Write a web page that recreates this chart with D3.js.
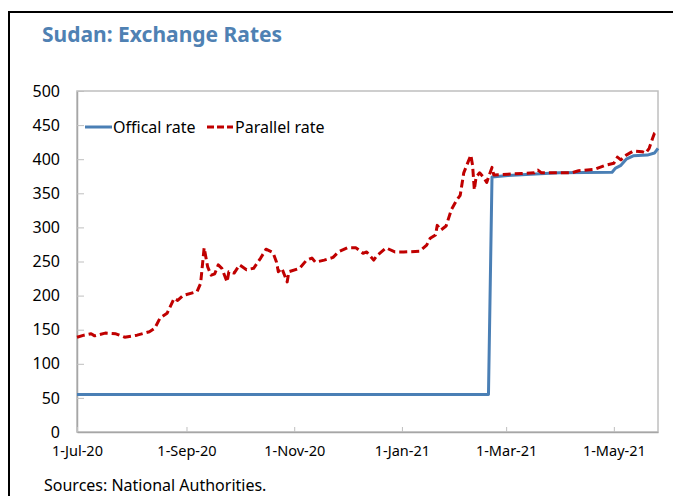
<!DOCTYPE html>
<html>
<head>
<meta charset="utf-8">
<script src="https://cdn.jsdelivr.net/npm/d3@7"></script>
<style>
  body { margin: 0; background: #fff; }
  svg { display: block; font-family: "Noto Sans", "Open Sans", sans-serif; }
</style>
</head>
<body>
<svg id="chart" width="673" height="496"></svg>
<script>
// official rate (SDG per USD)
const officialDates = ["2020-07-01", "2021-02-19", "2021-02-21", "2021-03-02", "2021-03-15", "2021-03-31",
  "2021-04-30", "2021-05-02", "2021-05-05", "2021-05-08", "2021-05-12", "2021-05-20", "2021-05-24", "2021-05-26"];
const officialValues = [55, 55, 374, 376, 378, 380, 381, 387, 391, 400, 405, 406, 409, 416];

// parallel market rate
const parallelDates = ["2020-07-01", "2020-07-05", "2020-07-09", "2020-07-11", "2020-07-17", "2020-07-23", "2020-07-28",
  "2020-08-04", "2020-08-11", "2020-08-14", "2020-08-17", "2020-08-21", "2020-08-25", "2020-08-27", "2020-08-30",
  "2020-09-07", "2020-09-09", "2020-09-11", "2020-09-13", "2020-09-15", "2020-09-17", "2020-09-19", "2020-09-21",
  "2020-09-24", "2020-09-25", "2020-09-28", "2020-10-01", "2020-10-05", "2020-10-09", "2020-10-13", "2020-10-16",
  "2020-10-20", "2020-10-22", "2020-10-23", "2020-10-25", "2020-10-28", "2020-10-29", "2020-11-04", "2020-11-08",
  "2020-11-11", "2020-11-13", "2020-11-18", "2020-11-23", "2020-11-26", "2020-12-01", "2020-12-06", "2020-12-10",
  "2020-12-12", "2020-12-16", "2020-12-18", "2020-12-23", "2020-12-28", "2021-01-02", "2021-01-11", "2021-01-15",
  "2021-01-17", "2021-01-20", "2021-01-21", "2021-01-23", "2021-01-26", "2021-01-29", "2021-02-01", "2021-02-03",
  "2021-02-05", "2021-02-09", "2021-02-10", "2021-02-11", "2021-02-12", "2021-02-14", "2021-02-16", "2021-02-18",
  "2021-02-21", "2021-02-22", "2021-03-02", "2021-03-10", "2021-03-17", "2021-03-19", "2021-03-21", "2021-03-31",
  "2021-04-07", "2021-04-11", "2021-04-20", "2021-04-26", "2021-05-01", "2021-05-03", "2021-05-05", "2021-05-08",
  "2021-05-12", "2021-05-17", "2021-05-19", "2021-05-21", "2021-05-23", "2021-05-24", "2021-05-26"];
const parallelValues = [139, 142, 144, 141, 145, 144, 139,
  142, 147, 152, 167, 174, 196, 193, 200,
  206, 218, 270, 242, 230, 232, 245, 240,
  220, 235, 233, 245, 238, 240, 255, 268,
  263, 249, 235, 240, 220, 235, 240, 252,
  255, 249, 252, 256, 264, 270, 270, 262,
  264, 252, 259, 270, 264, 264, 265, 274,
  284, 289, 303, 296, 302, 326, 340, 347,
  380, 406, 391, 355, 374, 380, 374, 366,
  388, 377, 378, 379, 380, 384, 380, 380,
  380, 383, 385, 391, 394, 403, 399, 406,
  412, 411, 409, 416, 431, 438, 441];

const yTicks = [0, 50, 100, 150, 200, 250, 300, 350, 400, 450, 500];
const xTicks = ["2020-07-01", "2020-09-01", "2020-11-01", "2021-01-01", "2021-03-01", "2021-05-01"];

const parse = d3.timeParse("%Y-%m-%d");
const fmt = d3.timeFormat("%-d-%b-%y");

const margin = {top: 91, right: 15, bottom: 64, left: 77};
const width = 673, height = 496;

const svg = d3.select("#chart");

// outer frame
svg.append("rect")
  .attr("x", 9).attr("y", 12)
  .attr("width", 700).attr("height", 520)
  .attr("fill", "none").attr("stroke", "#000").attr("stroke-width", 2);

svg.append("text")
  .attr("x", 42).attr("y", 42)
  .attr("font-size", 21).attr("font-weight", "bold")
  .attr("fill", "#4f81b3")
  .text("Sudan: Exchange Rates");

const x = d3.scaleTime()
  .domain([parse("2020-07-01"), parse("2021-05-26")])
  .range([margin.left, width - margin.right]);

const y = d3.scaleLinear()
  .domain([0, 500])
  .range([height - margin.bottom, margin.top]);

// plot area border
svg.append("rect")
  .attr("x", x.range()[0]).attr("y", y(500))
  .attr("width", x.range()[1] - x.range()[0])
  .attr("height", y(0) - y(500))
  .attr("fill", "none").attr("stroke", "#bfbfbf").attr("stroke-width", 1.5);

const yAxis = svg.append("g")
  .attr("transform", `translate(${margin.left},0)`)
  .call(d3.axisLeft(y).tickValues(yTicks).tickSizeInner(-7).tickSizeOuter(0).tickPadding(17));
yAxis.select(".domain").attr("stroke", "#a6a6a6").attr("stroke-width", 1.5);
yAxis.selectAll(".tick line").attr("stroke", "#bfbfbf");
yAxis.selectAll("text").attr("font-size", 16).attr("fill", "#000")
  .attr("font-family", "Noto Sans");

const xAxis = svg.append("g")
  .attr("transform", `translate(0,${y(0)})`)
  .call(d3.axisBottom(x).tickValues(xTicks.map(parse)).tickFormat(fmt)
    .tickSizeInner(-5).tickSizeOuter(0).tickPadding(14));
xAxis.select(".domain").attr("stroke", "#a6a6a6").attr("stroke-width", 1.5);
xAxis.selectAll(".tick line").attr("stroke", "#bfbfbf");
xAxis.selectAll("text").attr("font-size", 14.5).attr("fill", "#000")
  .attr("font-family", "Noto Sans");

const official = officialDates.map((d, i) => ({date: parse(d), value: officialValues[i]}));
const parallel = parallelDates.map((d, i) => ({date: parse(d), value: parallelValues[i]}));

const line = d3.line().x(d => x(d.date)).y(d => y(d.value));

svg.append("path")
  .datum(official)
  .attr("d", line)
  .attr("fill", "none").attr("stroke", "#4a7fb5").attr("stroke-width", 3)
  .attr("stroke-linejoin", "round");

svg.append("path")
  .datum(parallel)
  .attr("d", line)
  .attr("fill", "none").attr("stroke", "#c00000").attr("stroke-width", 3)
  .attr("stroke-dasharray", "8,4").attr("stroke-linejoin", "round");

// legend
const legend = svg.append("g").attr("font-size", 16).attr("fill", "#000");
legend.append("line").attr("x1", 85).attr("x2", 112).attr("y1", 127).attr("y2", 127)
  .attr("stroke", "#4a7fb5").attr("stroke-width", 3);
legend.append("text").attr("x", 113).attr("y", 133).text("Offical rate");
legend.append("line").attr("x1", 207).attr("x2", 233).attr("y1", 127).attr("y2", 127)
  .attr("stroke", "#c00000").attr("stroke-width", 3).attr("stroke-dasharray", "7,3");
legend.append("text").attr("x", 235).attr("y", 133).text("Parallel rate");

svg.append("text")
  .attr("x", 44).attr("y", 491)
  .attr("font-size", 16).attr("fill", "#000")
  .text("Sources: National Authorities.");
</script>
</body>
</html>
